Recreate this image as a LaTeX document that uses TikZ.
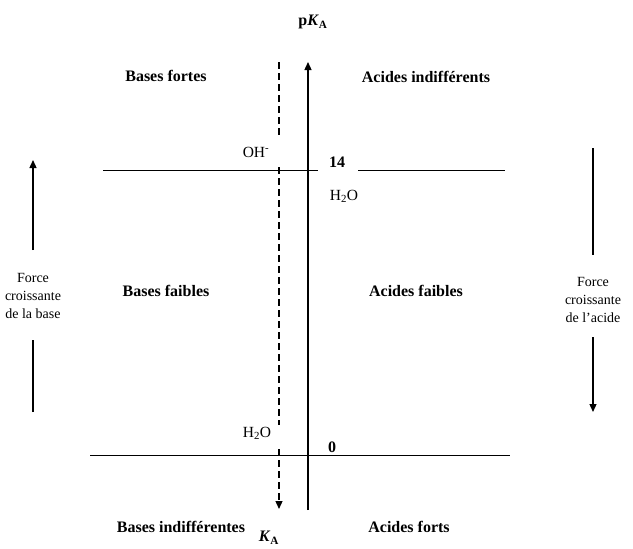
\documentclass[tikz,border=0pt]{standalone}
\usepackage{fontspec}
\setmainfont{Liberation Serif}
\usetikzlibrary{arrows.meta}
\begin{document}
\begin{tikzpicture}[x=1pt,y=-1pt,
  lbl/.style={font=\fontsize{16}{18}\selectfont\bfseries, inner sep=1pt},
  sm/.style={font=\fontsize{15.5}{18}\selectfont, inner sep=1pt},
  side/.style={font=\fontsize{14}{18.3}\selectfont, align=center, inner sep=1pt},
  ln/.style={line width=0.9pt},
  arr/.style={line width=1.3pt,-{Triangle[length=8pt,width=7pt]}},
  dsh/.style={line width=1.3pt,dash pattern=on 7pt off 4pt}]
\useasboundingbox (0,0) rectangle (633,549);
% labels
\node[lbl] (pka) at (313,22) {p\textit{K}\textsubscript{A}};
\node[lbl] (ka) at (269,538) {\textit{K}\textsubscript{A}};
\node[lbl] (bfo) at (166,76) {Bases fortes};
\node[lbl] (aind) at (426,77) {Acides indifférents};
\node[lbl] (bfa) at (166,291) {Bases faibles};
\node[lbl] (afa) at (416,291) {Acides faibles};
\node[lbl] (bind) at (181,527) {Bases indifférentes};
\node[lbl] (afo) at (409,527) {Acides forts};
\node[sm] (oh) at (256,152) {OH\textsuperscript{-}};
\node[lbl] (n14) at (337,162) {14};
\node[sm] (h2oa) at (344,196) {H\textsubscript{2}O};
\node[sm] (h2ob) at (257,433) {H\textsubscript{2}O};
\node[lbl] (n0) at (332,447) {0};
\node[side] (fb) at (33,296) {Force\\croissante\\de la base};
\node[side] (fa) at (593,300) {Force\\croissante\\de l'acide};
% coordinates
\coordinate (vb) at (308,510);
\coordinate (vt) at (308,62);
\coordinate (l14a) at (103,170);
\coordinate (l14b) at (318,170);
\coordinate (l14c) at (358,170);
\coordinate (l14d) at (505,170);
\coordinate (l0a) at (90,455);
\coordinate (l0b) at (510,455);
\coordinate (d1a) at (279,62);
\coordinate (d1b) at (279,135);
\coordinate (d2a) at (279,167);
\coordinate (d2b) at (279,425);
\coordinate (d3a) at (279,449);
\coordinate (d3b) at (279,509);
\coordinate (fbl) at (33,340);
\coordinate (fbl2) at (33,412);
\coordinate (fbu) at (33,250);
\coordinate (fbu2) at (33,160);
\coordinate (far) at (593,148);
\coordinate (far2) at (593,255);
\coordinate (fal) at (593,337);
\coordinate (fal2) at (593,412);
% lines
\draw[ln] (l14a) -- (l14b);
\draw[ln] (l14c) -- (l14d);
\draw[ln] (l0a) -- (l0b);
\draw[arr] (vb) -- (vt);
\draw[dsh] (d1a) -- (d1b);
\draw[dsh] (d2a) -- (d2b);
\draw[dsh,-{Triangle[length=8pt,width=7pt]}] (d3a) -- (d3b);
\draw[line width=1.3pt] (fbl2) -- (fbl);
\draw[arr] (fbu) -- (fbu2);
\draw[line width=1.3pt] (far) -- (far2);
\draw[arr] (fal) -- (fal2);
\end{tikzpicture}
\end{document}
